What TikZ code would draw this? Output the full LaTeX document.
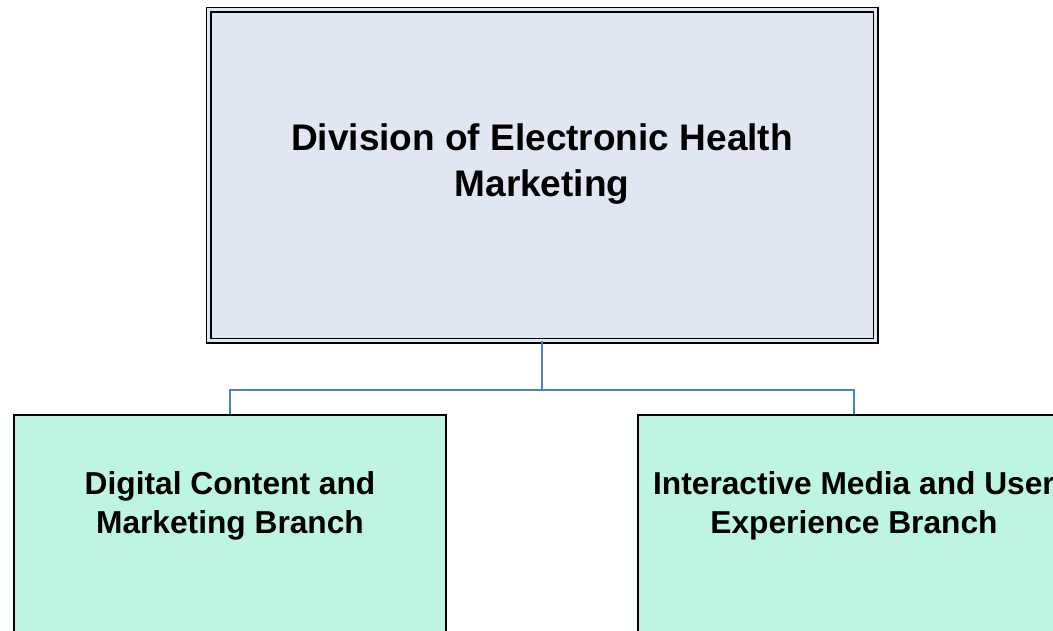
\documentclass[tikz,border=0pt]{standalone}
\usepackage{fontspec}
\setmainfont{Liberation Sans}
\usetikzlibrary{positioning}
\definecolor{divfill}{RGB}{224,231,242}
\definecolor{branchfill}{RGB}{190,245,224}
\definecolor{linkblue}{RGB}{74,126,197}
\tikzset{divbox/.style={draw=black,line width=1.7pt,double=divfill,double distance=2.6pt,fill=divfill,minimum width=667pt,minimum height=331pt,inner sep=0pt},
branchbox/.style={draw=black,line width=2.2pt,fill=branchfill,minimum width=432pt,minimum height=260pt,inner sep=0pt},
divtext/.style={align=center,font=\fontsize{37}{46}\selectfont\bfseries},
branchtext/.style={align=center,font=\fontsize{31.7}{39}\selectfont\bfseries},
link/.style={draw=linkblue,line width=1.5pt}}

\begin{document}
\begin{tikzpicture}[x=1pt,y=-1pt]
\useasboundingbox(0,0)rectangle(1053,630);
\node[divbox](div)at(542,175){};\node[divtext](divt)at(542,164){Division of Electronic Health\\Marketing};
\node[branchbox](dcm)at(230,545){};\node[branchtext](dcmt)at(230,506){Digital Content and\\Marketing Branch};
\node[branchbox](imux)at(854,545){};\node[branchtext](imuxt)at(854,506){Interactive Media and User\\Experience Branch};
\coordinate(fork)at(542,390);
\draw[link](div.south)--(fork)-|(dcm.north);\draw[link](fork)-|(imux.north);
\end{tikzpicture}
\end{document}
